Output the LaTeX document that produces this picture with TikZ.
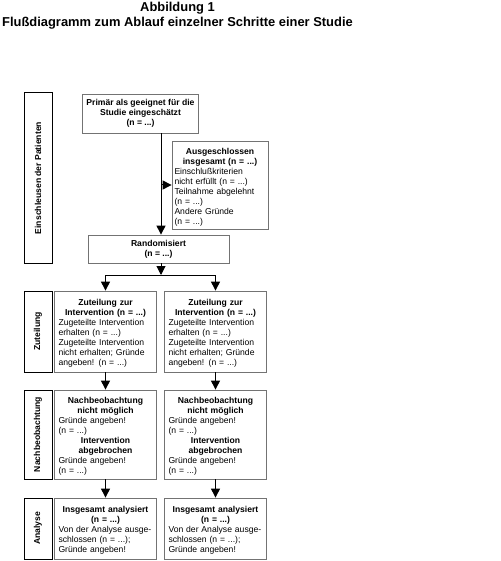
\documentclass[tikz,border=0pt]{standalone}
\usepackage{fontspec}
\setmainfont{Liberation Sans}
\usetikzlibrary{arrows.meta,calc}
\newcommand\hd[1]{\par{\centering\bfseries #1\par}}
\begin{document}
\begin{tikzpicture}[x=1pt,y=-1pt,
  txt/.style={font=\fontsize{8.6}{10}\selectfont},
  box/.style={txt,draw=black!55,line width=0.8pt,inner xsep=4pt,inner ysep=0pt,align=left},
  lbl/.style={draw=black,line width=1pt,minimum width=28pt,inner sep=0pt},
  lbltext/.style={font=\fontsize{8.6}{10}\selectfont\bfseries,rotate=90},
  arr/.style={line width=1pt,-{Triangle[length=9pt,width=9pt]}},
  ln/.style={line width=1pt}]
\useasboundingbox (0,0) rectangle (500,561);
% title
\node[font=\fontsize{12.9}{15}\selectfont\bfseries,align=center] (title) at (177.5,16)
  {Abbildung 1\\Flußdiagramm zum Ablauf einzelner Schritte einer Studie};
% label boxes
\node[lbl,minimum height=170pt] (l1) at (38,178) {};
\node[lbltext] (l1t) at (l1.center) {Einschleusen der Patienten};
\node[lbl,minimum height=81pt] (l2) at (38,331.5) {};
\node[lbltext] (l2t) at (l2.center) {Zuteilung};
\node[lbl,minimum height=89pt] (l3) at (38,434.5) {};
\node[lbltext] (l3t) at (l3.center) {Nachbeobachtung};
\node[lbl,minimum height=61pt] (l4) at (38,528.5) {};
\node[lbltext] (l4t) at (l4.center) {Analyse};
% top boxes
\node[box,minimum width=105pt,minimum height=39pt,align=center] (prim) at (140.5,113.5)
  {\bfseries Primär als geeignet für die\\\bfseries Studie eingeschätzt\\\bfseries (n = ...)};
\node[box,minimum height=88pt,text width=91pt,inner xsep=2.5pt] (ausg) at (220,185)
  {\hd{Ausgeschlossen\\insgesamt (n = ...)}Einschlußkriterien\\nicht erfüllt (n = ...)\\Teilnahme abgelehnt\\(n = ...)\\Andere Gründe\\(n = ...)};
\node[box,minimum width=141pt,minimum height=28pt,align=center] (rand) at (158.5,249)
  {\bfseries Randomisiert\\\bfseries (n = ...)};
% Zuteilung
\foreach \n/\x in {zl/105.5,zr/215.5}{
\node[box,minimum height=81pt,text width=94pt] (\n) at (\x,331.5)
  {\hd{Zuteilung zur\\Intervention (n = ...)}Zugeteilte Intervention\\erhalten (n = ...)\\Zugeteilte Intervention\\nicht erhalten; Gründe\\angeben! (n = ...)};
}
\foreach \n/\x in {nl/105.5,nr/215.5}{
\node[box,minimum height=89pt,text width=94pt] (\n) at (\x,434.5)
  {\hd{Nachbeobachtung\\nicht möglich}Gründe angeben!\\(n = ...)\hd{Intervention\\abgebrochen}Gründe angeben!\\(n = ...)};
}
\foreach \n/\x in {al/105.5,ar/215.5}{
\node[box,minimum height=61pt,text width=94pt] (\n) at (\x,528.5)
  {\hd{Insgesamt analysiert\\(n = ...)}Von der Analyse ausge-\\schlossen (n = ...);\\Gründe angeben!};
}
% connectors
\coordinate (jx) at (161,185);
\coordinate (split) at (161,275);
\draw[arr] (jx |- prim.south) -- (jx |- rand.north);
\draw[arr] (jx) -- (ausg.west);
\draw[arr] (jx |- rand.south) -- (split);
\draw[ln] (split) -- (split -| zl.north) ;
\draw[ln] (split) -- (split -| zr.north) ;
\draw[arr] (split -| zl.north) -- (zl.north);
\draw[arr] (split -| zr.north) -- (zr.north);
\draw[arr] (zl.south) -- (nl.north);
\draw[arr] (zr.south) -- (nr.north);
\draw[arr] (nl.south) -- (al.north);
\draw[arr] (nr.south) -- (ar.north);
\end{tikzpicture}
\end{document}
